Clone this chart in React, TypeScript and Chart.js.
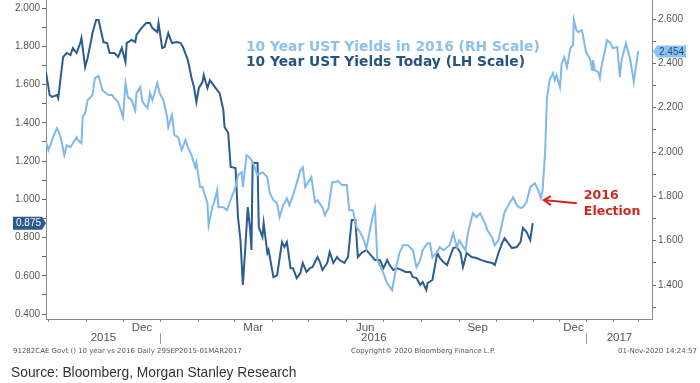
import React, { useEffect, useRef } from 'react';
import { Chart, registerables } from 'chart.js';

Chart.register(...registerables);

// ---------- data ----------
// x values: days after 29 Sep 2015 (the first day of the chart)
const START_UTC = Date.UTC(2015, 8, 29);

// 10 Year UST yields "today" (2019-2020 path, aligned onto 2015-2016 dates) - left scale
const darkDays = [
  0, 3, 5, 9, 10, 13, 14, 17, 20, 22, 25, 28, 29, 32, 34, 37, 38, 41, 43, 47,
  50, 52, 56, 59, 62, 65, 66, 70, 73, 74, 78, 82, 85, 87, 91, 92, 95, 97, 100, 103,
  107, 110, 112, 116, 119, 121, 123, 125, 128, 129, 132, 134, 137, 140, 142, 145, 146, 149, 151, 155,
  157, 159, 161, 163, 165, 167, 168, 169, 173, 174, 177, 178, 181, 182, 186, 189, 193, 195, 197, 200,
  202, 205, 208, 210, 213, 216, 218, 222, 224, 226, 230, 232, 235, 238, 240, 244, 247, 250, 253, 255,
  258, 262, 267, 269, 273, 276, 279, 281, 284, 287, 291, 294, 298, 300, 303, 306, 308, 311, 312, 316,
  320, 322, 325, 328, 330, 333, 336, 339, 341, 344, 348, 352, 356, 361, 365, 367, 370, 373, 375, 378,
  381, 385, 388, 390, 393, 396, 398,
];
const darkValues = [
  1.665, 1.545, 1.535, 1.545, 1.529, 1.691, 1.744, 1.765, 1.754, 1.791, 1.765, 1.817, 1.843, 1.691, 1.739, 1.833, 1.869, 1.937, 1.937, 1.822,
  1.817, 1.765, 1.765, 1.744, 1.791, 1.718, 1.817, 1.833, 1.822, 1.859, 1.895, 1.922, 1.922, 1.895, 1.874, 1.922, 1.791, 1.796, 1.869, 1.817,
  1.822, 1.817, 1.796, 1.728, 1.634, 1.587, 1.508, 1.582, 1.613, 1.650, 1.582, 1.623, 1.597, 1.571, 1.555, 1.467, 1.378, 1.346, 1.169, 1.163,
  0.907, 0.787, 0.552, 0.750, 0.959, 0.839, 0.735, 1.190, 1.190, 0.855, 0.803, 0.876, 0.719, 0.735, 0.593, 0.604, 0.776, 0.750, 0.776, 0.640,
  0.640, 0.588, 0.614, 0.667, 0.620, 0.640, 0.646, 0.698, 0.672, 0.630, 0.667, 0.724, 0.667, 0.698, 0.682, 0.667, 0.698, 0.892, 0.892, 0.698,
  0.719, 0.735, 0.698, 0.682, 0.682, 0.640, 0.682, 0.656, 0.630, 0.640, 0.630, 0.620, 0.620, 0.593, 0.588, 0.552, 0.567, 0.526, 0.562, 0.578,
  0.719, 0.693, 0.672, 0.656, 0.693, 0.745, 0.750, 0.719, 0.646, 0.719, 0.698, 0.693, 0.682, 0.672, 0.667, 0.656, 0.719, 0.771, 0.797, 0.771,
  0.745, 0.750, 0.776, 0.850, 0.829, 0.787, 0.875,
];

// 10 Year UST yields in 2016 - right scale
const lightDays = [
  0, 2, 5, 7, 9, 12, 15, 17, 20, 22, 25, 26, 29, 30, 32, 34, 38, 40, 43, 46,
  48, 51, 54, 56, 59, 63, 65, 67, 70, 73, 74, 77, 79, 83, 85, 87, 91, 93, 96, 99,
  100, 103, 105, 108, 111, 114, 116, 119, 122, 123, 126, 128, 132, 133, 136, 138, 140, 141, 145, 148,
  150, 155, 157, 160, 161, 164, 167, 169, 173, 177, 181, 183, 186, 189, 191, 194, 197, 199, 202, 205,
  208, 210, 212, 214, 217, 220, 222, 226, 228, 231, 234, 236, 239, 242, 246, 248, 251, 254, 257, 259,
  262, 267, 269, 271, 276, 279, 283, 287, 289, 292, 296, 300, 303, 306, 308, 312, 314, 316, 320, 322,
  325, 330, 333, 336, 338, 343, 345, 349, 352, 355, 359, 361, 365, 367, 370, 373, 375, 379, 382, 385,
  388, 390, 393, 396, 400, 404, 407, 409, 412, 414, 417, 421, 423, 425, 429, 431, 434, 437, 441, 444,
  445, 448, 450, 454, 455, 459, 461, 464, 466, 467, 469, 473, 475, 477, 481, 483, 487, 490, 495, 498,
  500, 505, 507, 510, 513, 514, 519,
];
const lightValues = [
  2.045, 2.009, 2.054, 2.085, 2.108, 2.067, 1.986, 2.031, 2.022, 2.040, 2.067, 2.054, 2.040, 2.158, 2.176, 2.234, 2.257, 2.334, 2.343, 2.280,
  2.271, 2.257, 2.257, 2.243, 2.225, 2.158, 2.311, 2.248, 2.234, 2.189, 2.266, 2.293, 2.225, 2.198, 2.266, 2.234, 2.311, 2.266, 2.234, 2.158,
  2.112, 2.167, 2.076, 2.067, 2.009, 2.054, 2.022, 1.986, 1.932, 1.954, 1.842, 1.842, 1.769, 1.670, 1.751, 1.783, 1.828, 1.751, 1.751, 1.738,
  1.769, 1.842, 1.896, 1.909, 1.842, 1.986, 1.973, 1.954, 1.896, 1.909, 1.887, 1.815, 1.783, 1.769, 1.706, 1.760, 1.792, 1.760, 1.805, 1.860,
  1.918, 1.932, 1.842, 1.860, 1.887, 1.774, 1.783, 1.751, 1.715, 1.747, 1.864, 1.864, 1.869, 1.851, 1.851, 1.738, 1.738, 1.661, 1.638, 1.616,
  1.566, 1.706, 1.747, 1.512, 1.453, 1.408, 1.377, 1.498, 1.544, 1.580, 1.580, 1.557, 1.480, 1.512, 1.557, 1.589, 1.589, 1.525, 1.548, 1.571,
  1.557, 1.580, 1.634, 1.571, 1.602, 1.557, 1.634, 1.724, 1.706, 1.724, 1.679, 1.647, 1.611, 1.580, 1.602, 1.679, 1.729, 1.769, 1.796, 1.760,
  1.747, 1.751, 1.774, 1.842, 1.860, 1.828, 1.792, 1.828, 2.009, 2.243, 2.325, 2.356, 2.325, 2.347, 2.293, 2.401, 2.428, 2.383, 2.469, 2.483,
  2.596, 2.550, 2.541, 2.550, 2.537, 2.451, 2.438, 2.415, 2.370, 2.415, 2.370, 2.361, 2.334, 2.392, 2.460, 2.505, 2.492, 2.469, 2.474, 2.338,
  2.415, 2.492, 2.460, 2.415, 2.343, 2.316, 2.454,
];

const leftTickValues = [0.4, 0.5, 0.6, 0.7, 0.8, 0.9, 1.0, 1.1, 1.2, 1.3, 1.4, 1.5, 1.6, 1.7, 1.8, 1.9, 2.0];
const rightTickValues = [1.3, 1.4, 1.5, 1.6, 1.7, 1.8, 1.9, 2.0, 2.1, 2.2, 2.3, 2.4, 2.5, 2.6];
const LEFT_MIN = 0.374;
const LEFT_MAX = 2.042;
const RIGHT_MIN = 1.247;
const RIGHT_MAX = 2.686;

const monthLabelNames = ['Dec', 'Mar', 'Jun', 'Sep', 'Dec'];
const monthLabelMonths = ['2015-12', '2016-03', '2016-06', '2016-09', '2016-12'];
const yearLabels = ['2015', '2016', '2017'];

const ELECTION_DATE = '2016-11-08';
const AXIS_END_DATE = '2017-03-17';
// Bloomberg's axis packs the period after the end of the "today" series more tightly
const COMPRESS_FROM_DATE = '2016-11-01';
const COMPRESS_RATIO = 0.71;

const legendLight = '10 Year UST Yields in 2016 (RH Scale)';
const legendDark = '10 Year UST Yields Today (LH Scale)';
const footLeft = '91282CAE Govt () 10 year vs 2016  Daily 29SEP2015-01MAR2017';
const footMid = 'Copyright\u00A9 2020 Bloomberg Finance L.P.';
const footRight = '01-Nov-2020 14:24:57';
const sourceText = 'Source: Bloomberg, Morgan Stanley Research';

// ---------- styling ----------
const DARK = '#2c5c91';
const LIGHT = '#80b8ec';
const AXIS = '#8a8a8a';
const TICK_TEXT = '#555555';
const RED = '#d1261c';
const AXIS_FONT = '"Liberation Sans", sans-serif';

// ---------- helpers ----------
const dayOf = (iso: string) => {
  const [y, m, d] = iso.split('-').map(Number);
  return Math.round((Date.UTC(y, m - 1, d || 1) - START_UTC) / 86400000);
};
const COMPRESS_FROM = dayOf(COMPRESS_FROM_DATE);
const warp = (day: number) => (day <= COMPRESS_FROM ? day : COMPRESS_FROM + (day - COMPRESS_FROM) * COMPRESS_RATIO);

type XT = { value: number; label: string; kind: 'mark' | 'label' };

function buildMonthTicks(): XT[] {
  const out: XT[] = [];
  for (let y = 2015, m = 9; y < 2017 || (y === 2017 && m <= 2); ) {
    const iso = `${y}-${String(m + 1).padStart(2, '0')}-01`;
    out.push({ value: warp(dayOf(iso)), label: '', kind: 'mark' });
    m++;
    if (m > 11) { m = 0; y++; }
  }
  monthLabelMonths.forEach((ym, i) => {
    const [y, m] = ym.split('-').map(Number);
    const a = warp(dayOf(`${y}-${String(m).padStart(2, '0')}-01`));
    const ny = m === 12 ? y + 1 : y;
    const nm = m === 12 ? 1 : m + 1;
    const b = warp(dayOf(`${ny}-${String(nm).padStart(2, '0')}-01`));
    out.push({ value: (a + b) / 2, label: monthLabelNames[i], kind: 'label' });
  });
  return out;
}

function buildYearTicks(axisEnd: number): XT[] {
  const j16 = warp(dayOf('2016-01-01'));
  const j17 = warp(dayOf('2017-01-01'));
  const bounds = [0, j16, j17, axisEnd];
  const out: XT[] = [
    { value: j16, label: '', kind: 'mark' },
    { value: j17, label: '', kind: 'mark' },
  ];
  yearLabels.forEach((yl, i) => out.push({ value: (bounds[i] + bounds[i + 1]) / 2, label: yl, kind: 'label' }));
  return out;
}

const noPad = (s: any) => {
  s.paddingTop = 0;
  s.paddingBottom = 0;
  s.paddingLeft = 0;
  s.paddingRight = 0;
};

export default function App() {
  const ref = useRef<HTMLCanvasElement | null>(null);

  useEffect(() => {
    if (!ref.current) return;
    const axisEnd = warp(dayOf(AXIS_END_DATE));
    const monthTicks = buildMonthTicks();
    const yearTicks = buildYearTicks(axisEnd);

    const darkData = darkDays.map((d, i) => ({ x: warp(d), y: darkValues[i] }));
    const lightData = lightDays.map((d, i) => ({ x: warp(d), y: lightValues[i] }));

    const overlay = {
      id: 'overlay',
      afterDatasetsDraw(chart: any) {
        const ctx = chart.ctx as CanvasRenderingContext2D;
        const xs = chart.scales.x;
        const yl = chart.scales.y;
        const yr = chart.scales.y2;
        ctx.save();

        // legend texts
        ctx.textAlign = 'left';
        ctx.textBaseline = 'middle';
        ctx.font = 'bold 13.8px "DejaVu Sans"';
        ctx.fillStyle = '#8ec0ec';
        ctx.fillText(legendLight, 246, 47);
        ctx.fillStyle = '#285282';
        ctx.fillText(legendDark, 246, 62);

        // election annotation
        const eDay = dayOf(ELECTION_DATE);
        const ei = lightDays.findIndex((d) => d >= eDay);
        const ex = xs.getPixelForValue(warp(lightDays[ei]));
        const ey = yr.getPixelForValue(lightValues[ei]);
        const tipX = ex + 3;
        const tipY = ey + 2;
        const tailX = tipX + 33;
        const tailY = tipY + 3;
        ctx.strokeStyle = RED;
        ctx.fillStyle = RED;
        ctx.lineWidth = 2;
        ctx.beginPath();
        ctx.moveTo(tailX, tailY);
        ctx.lineTo(tipX + 2, tipY);
        ctx.stroke();
        ctx.beginPath();
        ctx.moveTo(tipX + 7, tipY - 4);
        ctx.lineTo(tipX, tipY);
        ctx.lineTo(tipX + 7, tipY + 5);
        ctx.stroke();
        ctx.font = 'bold 12.5px "DejaVu Sans"';
        ctx.textBaseline = 'middle';
        ctx.fillText('2016', tipX + 40, tipY - 4);
        ctx.fillText('Election', tipX + 40, tipY + 12);

        // last-value badges
        ctx.font = '10px "Liberation Sans"';
        const lv = darkValues[darkValues.length - 1];
        const ly = yl.getPixelForValue(lv);
        const la = chart.chartArea.left;
        ctx.fillStyle = '#2b5a8f';
        ctx.beginPath();
        ctx.moveTo(la - 33, ly - 6.5);
        ctx.lineTo(la - 4, ly - 6.5);
        ctx.lineTo(la, ly);
        ctx.lineTo(la - 4, ly + 6.5);
        ctx.lineTo(la - 33, ly + 6.5);
        ctx.closePath();
        ctx.fill();
        ctx.fillStyle = '#ffffff';
        ctx.textAlign = 'center';
        ctx.fillText(lv.toFixed(3), la - 17.5, ly + 0.5);

        const rv = lightValues[lightValues.length - 1];
        const ry = yr.getPixelForValue(rv);
        const ra = chart.chartArea.right;
        ctx.fillStyle = '#8cc2f0';
        ctx.beginPath();
        ctx.moveTo(ra + 1, ry);
        ctx.lineTo(ra + 5, ry - 6);
        ctx.lineTo(ra + 34, ry - 6);
        ctx.lineTo(ra + 34, ry + 6);
        ctx.lineTo(ra + 5, ry + 6);
        ctx.closePath();
        ctx.fill();
        ctx.fillStyle = '#1d4c86';
        ctx.fillText(rv.toFixed(3), ra + 19.5, ry + 0.5);
        ctx.restore();
      },
    };

    const chart = new Chart(ref.current, {
      type: 'line',
      data: {
        datasets: [
          {
            label: legendLight,
            data: lightData,
            xAxisID: 'x',
            yAxisID: 'y2',
            borderColor: LIGHT,
            borderWidth: 2,
            pointRadius: 0,
            tension: 0,
            fill: false,
          },
          {
            label: legendDark,
            data: darkData,
            xAxisID: 'x',
            yAxisID: 'y',
            borderColor: DARK,
            borderWidth: 2,
            pointRadius: 0,
            tension: 0,
            fill: false,
          },
        ],
      },
      options: {
        animation: false,
        responsive: false,
        maintainAspectRatio: false,
        events: [],
        layout: { padding: { top: 0, left: 0, right: 0, bottom: 36 } },
        plugins: { legend: { display: false }, tooltip: { enabled: false } },
        scales: {
          x: {
            type: 'linear',
            position: 'bottom',
            weight: 0,
            min: 0,
            max: axisEnd,
            afterBuildTicks: (s: any) => { s.ticks = monthTicks.map((t) => ({ value: t.value })); },
            afterFit: (s: any) => { s.height = 14; noPad(s); },
            ticks: {
              autoSkip: false,
              maxRotation: 0,
              minRotation: 0,
              padding: -1,
              color: TICK_TEXT,
              font: { family: AXIS_FONT, size: 11.5 },
              callback: (_v: any, i: number) => monthTicks[i]?.label ?? '',
            },
            grid: {
              drawOnChartArea: false,
              drawTicks: true,
              tickLength: 3,
              color: (c: any) => (monthTicks[c.index]?.kind === 'mark' ? AXIS : 'rgba(0,0,0,0)'),
            },
            border: { display: true, color: AXIS, width: 1 },
          },
          x2: {
            type: 'linear',
            position: 'bottom',
            weight: 1,
            min: 0,
            max: axisEnd,
            afterBuildTicks: (s: any) => { s.ticks = yearTicks.map((t) => ({ value: t.value })); },
            afterFit: (s: any) => { s.height = 14; noPad(s); },
            ticks: {
              autoSkip: false,
              maxRotation: 0,
              minRotation: 0,
              padding: -13,
              color: TICK_TEXT,
              font: { family: AXIS_FONT, size: 11.5 },
              callback: (_v: any, i: number) => yearTicks[i]?.label ?? '',
            },
            grid: {
              drawOnChartArea: false,
              drawTicks: true,
              tickLength: 11,
              color: (c: any) => (yearTicks[c.index]?.kind === 'mark' ? '#9a9a9a' : 'rgba(0,0,0,0)'),
            },
            border: { display: false },
          },
          y: {
            type: 'linear',
            position: 'left',
            min: LEFT_MIN,
            max: LEFT_MAX,
            afterBuildTicks: (s: any) => { s.ticks = leftTickValues.map((v) => ({ value: v })); },
            afterFit: (s: any) => { s.width = 46; noPad(s); },
            ticks: {
              padding: 2,
              color: TICK_TEXT,
              font: { family: AXIS_FONT, size: 10 },
              callback: (v: any) => (Math.round(Number(v) * 10) % 2 === 0 ? Number(v).toFixed(3) : ''),
            },
            grid: { drawOnChartArea: false, drawTicks: true, tickLength: 4, color: '#6a6a6a' },
            border: { display: true, color: AXIS, width: 1 },
          },
          y2: {
            type: 'linear',
            position: 'right',
            min: RIGHT_MIN,
            max: RIGHT_MAX,
            afterBuildTicks: (s: any) => { s.ticks = rightTickValues.map((v) => ({ value: v })); },
            afterFit: (s: any) => { s.width = 48; noPad(s); },
            ticks: {
              padding: 2,
              color: TICK_TEXT,
              font: { family: AXIS_FONT, size: 10 },
              callback: (v: any) => (Math.round(Number(v) * 10) % 2 === 0 ? Number(v).toFixed(3) : ''),
            },
            grid: { drawOnChartArea: false, drawTicks: true, tickLength: 4, color: '#6a6a6a' },
            border: { display: true, color: AXIS, width: 1 },
          },
        },
      } as any,
      plugins: [overlay],
    });
    return () => chart.destroy();
  }, []);

  const tiny: React.CSSProperties = {
    position: 'absolute',
    top: 346,
    fontFamily: '"DejaVu Sans", sans-serif',
    fontSize: 7,
    color: '#555',
    whiteSpace: 'nowrap',
    lineHeight: '10px',
  };

  return (
    <div style={{ position: 'fixed', left: 0, top: 0, width: 700, height: 383, background: '#fff', overflow: 'hidden' }}>
      <canvas ref={ref} width={700} height={383} style={{ position: 'absolute', left: 0, top: 0, width: 700, height: 383 }} />
      <div style={{ ...tiny, left: 13 }}>{footLeft}</div>
      <div style={{ ...tiny, left: 351 }}>{footMid}</div>
      <div style={{ ...tiny, right: 3 }}>{footRight}</div>
      <div
        style={{
          position: 'absolute',
          left: 11,
          top: 363,
          fontFamily: '"Liberation Sans", sans-serif',
          fontSize: 15,
          lineHeight: '18px',
          color: '#333',
          whiteSpace: 'nowrap',
          transform: 'scaleX(0.92)',
          transformOrigin: 'left center',
        }}
      >
        {sourceText}
      </div>
    </div>
  );
}
